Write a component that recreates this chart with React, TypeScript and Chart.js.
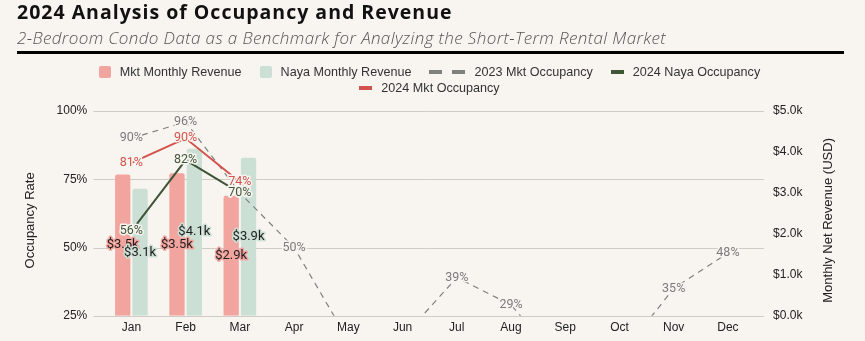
import React, { useEffect, useRef } from "react";
import { Chart, registerables } from "chart.js";

Chart.register(...registerables);

const months = ["Jan", "Feb", "Mar", "Apr", "May", "Jun", "Jul", "Aug", "Sep", "Oct", "Nov", "Dec"];
// revenue in thousands USD
const mktRevenue = [3.45, 3.48, 2.93, null, null, null, null, null, null, null, null, null];
const nayaRevenue = [3.1, 4.08, 3.86, null, null, null, null, null, null, null, null, null];
// occupancy in %
const mkt2023Occ = [90, 96, 70, 50, 16, 17, 39, 29, 6, 10, 35, 48];
const naya2024Occ = [56, 82, 70, null, null, null, null, null, null, null, null, null];
const mkt2024Occ = [81, 90, 74, null, null, null, null, null, null, null, null, null];

const occMin = 25;
const occMax = 100;
const occStep = 25;
const revMin = 0;
const revMax = 5;
const revStep = 1;

const leftTitle = "Occupancy Rate";
const rightTitle = "Monthly Net Revenue (USD)";

const BG = "#f8f5f1";
const PINK = "#f2a49e";
const MINT = "#cbdfd4";
const RED = "#d3524a";
const DKGREEN = "#3f5537";
const GREY = "#808080";

const gridPlugin = {
  id: "customGrid",
  beforeDatasetsDraw(chart: any) {
    const { ctx, chartArea, scales } = chart;
    const y = scales.y;
    ctx.save();
    ctx.strokeStyle = "#cfcbc5";
    ctx.lineWidth = 1;
    y.ticks.forEach((t: any) => {
      const py = Math.round(y.getPixelForValue(t.value)) + 0.5;
      ctx.beginPath();
      ctx.moveTo(chartArea.left - 11, py);
      ctx.lineTo(chartArea.right + 9, py);
      ctx.stroke();
    });
    ctx.restore();
  },
};

// axis titles, drawn slightly below the chart-area centre like the reference
const axisTitlePlugin = {
  id: "axisTitles",
  afterDraw(chart: any) {
    const { ctx, chartArea, scales } = chart;
    const cy = (chartArea.top + chartArea.bottom) / 2 + 7;
    ctx.save();
    ctx.font = "13px 'Liberation Sans', Arial, sans-serif";
    ctx.fillStyle = "#222";
    ctx.textAlign = "center";
    ctx.textBaseline = "middle";
    const lx = scales.y.left + 4 + 7.8;
    ctx.save();
    ctx.translate(lx, cy);
    ctx.rotate(-Math.PI / 2);
    ctx.fillText(leftTitle, 0, 0);
    ctx.restore();
    const rx = scales.y1.right - 4 - 7.8;
    ctx.save();
    ctx.translate(rx, cy);
    ctx.rotate(-Math.PI / 2);
    ctx.fillText(rightTitle, 0, 0);
    ctx.restore();
    ctx.restore();
  },
};

const labelPlugin = {
  id: "valueLabels",
  afterDatasetsDraw(chart: any) {
    const { ctx, chartArea } = chart;
    ctx.save();
    ctx.textAlign = "center";
    ctx.textBaseline = "middle";
    ctx.lineJoin = "round";
    chart.data.datasets.forEach((ds: any, di: number) => {
      const meta = chart.getDatasetMeta(di);
      meta.data.forEach((el: any, j: number) => {
        const v = ds.data[j];
        if (v === null || v === undefined) return;
        let x = el.x;
        let yy = el.y;
        let text = "";
        if (ds.type === "bar") {
          yy = (el.y + el.base) / 2;
          text = "$" + v.toFixed(1) + "k";
          ctx.font = "13px Roboto, 'Liberation Sans', sans-serif";
          ctx.strokeStyle = ds.backgroundColor;
          ctx.fillStyle = "#1e1e1e";
        } else {
          if (v < occMin || v > occMax) return;
          text = Math.round(v) + "%";
          ctx.font = "12.5px Roboto, 'Liberation Sans', sans-serif";
          ctx.strokeStyle = BG;
          ctx.fillStyle = ds.labelColor;
        }
        if (yy < chartArea.top - 5 || yy > chartArea.bottom + 5) return;
        ctx.lineWidth = 3;
        ctx.strokeText(text, x, yy);
        ctx.fillText(text, x, yy);
      });
    });
    ctx.restore();
  },
};

function LegendBox({ color }: { color: string }) {
  return (
    <span
      style={{
        display: "inline-block",
        width: 12,
        height: 12,
        borderRadius: 2,
        background: color,
        marginRight: 9,
      }}
    />
  );
}

function LegendLine({ color, dashed }: { color: string; dashed?: boolean }) {
  const dash = (ml: number) => (
    <span
      style={{
        display: "inline-block",
        width: 13,
        height: 4,
        background: color,
        marginLeft: ml,
      }}
    />
  );
  return (
    <span style={{ display: "inline-flex", alignItems: "center", marginRight: 9 }}>
      {dash(0)}
      {dashed ? dash(10) : null}
    </span>
  );
}

export default function App() {
  const canvasRef = useRef<HTMLCanvasElement | null>(null);

  useEffect(() => {
    if (!canvasRef.current) return;
    Chart.defaults.font.family = "'Liberation Sans', Arial, sans-serif";
    const chart = new Chart(canvasRef.current, {
      data: {
        labels: months,
        datasets: [
          {
            type: "bar",
            label: "Mkt Monthly Revenue",
            data: mktRevenue,
            backgroundColor: PINK,
            yAxisID: "y1",
            borderRadius: 2,
            barPercentage: 0.88,
            categoryPercentage: 0.64,
            order: 10,
          },
          {
            type: "bar",
            label: "Naya Monthly Revenue",
            data: nayaRevenue,
            backgroundColor: MINT,
            yAxisID: "y1",
            borderRadius: 2,
            barPercentage: 0.88,
            categoryPercentage: 0.64,
            order: 10,
          },
          {
            type: "line",
            label: "2023 Mkt Occupancy",
            data: mkt2023Occ,
            borderColor: GREY,
            borderWidth: 1.2,
            borderDash: [6, 5],
            pointRadius: 0,
            yAxisID: "y",
            labelColor: "#7b7b7b",
            order: 3,
          } as any,
          {
            type: "line",
            label: "2024 Naya Occupancy",
            data: naya2024Occ,
            borderColor: DKGREEN,
            borderWidth: 2,
            pointRadius: 0,
            yAxisID: "y",
            labelColor: DKGREEN,
            order: 2,
          } as any,
          {
            type: "line",
            label: "2024 Mkt Occupancy",
            data: mkt2024Occ,
            borderColor: RED,
            borderWidth: 2,
            pointRadius: 0,
            yAxisID: "y",
            labelColor: RED,
            order: 1,
          } as any,
        ],
      },
      options: {
        animation: false,
        responsive: false,
        maintainAspectRatio: false,
        layout: { padding: { top: 111, left: 19, right: 25, bottom: 0 } },
        plugins: {
          legend: { display: false },
          tooltip: { enabled: false },
        },
        scales: {
          x: {
            grid: { display: false, drawTicks: false },
            border: { display: false },
            ticks: { color: "#222", font: { size: 12 }, padding: 5 },
          },
          y: {
            position: "left",
            min: occMin,
            max: occMax,
            grid: { display: false, drawTicks: false },
            border: { display: false },
            ticks: {
              stepSize: occStep,
              color: "#222",
              font: { size: 12 },
              padding: 17,
              callback: (v: any) => v + "%",
            },
            title: {
              display: true,
              text: leftTitle,
              color: "rgba(0,0,0,0)",
              font: { size: 13 },
              padding: { top: 4, bottom: 1 },
            },
          },
          y1: {
            position: "right",
            min: revMin,
            max: revMax,
            grid: { display: false, drawTicks: false },
            border: { display: false },
            ticks: {
              stepSize: revStep,
              color: "#222",
              font: { size: 12 },
              padding: 18,
              callback: (v: any) => "$" + Number(v).toFixed(1) + "k",
            },
            title: {
              display: true,
              text: rightTitle,
              color: "rgba(0,0,0,0)",
              font: { size: 13 },
              padding: { top: 4, bottom: 0 },
            },
          },
        },
      } as any,
      plugins: [gridPlugin, labelPlugin, axisTitlePlugin],
    });
    return () => chart.destroy();
  }, []);

  const legendItem: React.CSSProperties = {
    display: "inline-flex",
    alignItems: "center",
    height: 16,
  };

  return (
    <div
      style={{
        position: "fixed",
        top: 0,
        left: 0,
        width: 865,
        height: 341,
        background: BG,
        overflow: "hidden",
      }}
    >
      <canvas
        ref={canvasRef}
        width={865}
        height={341}
        style={{ position: "absolute", top: 0, left: 0, width: 865, height: 341 }}
      />
      <div
        style={{
          position: "absolute",
          left: 17,
          top: -2,
          fontFamily: "'Open Sans', sans-serif",
          fontWeight: 700,
          fontSize: 19.5,
          letterSpacing: 1.0,
          color: "#111",
          whiteSpace: "nowrap",
        }}
      >
        2024 Analysis of Occupancy and Revenue
      </div>
      <div
        style={{
          position: "absolute",
          left: 17,
          top: 26,
          fontFamily: "'Open Sans', sans-serif",
          fontStyle: "italic",
          fontWeight: 300,
          fontSize: 17,
          letterSpacing: 0.38,
          color: "#555",
          whiteSpace: "nowrap",
        }}
      >
        2-Bedroom Condo Data as a Benchmark for Analyzing the Short-Term Rental Market
      </div>
      <div
        style={{
          position: "absolute",
          left: 17,
          top: 51,
          width: 827,
          height: 3,
          background: "#000",
        }}
      />
      <div
        style={{
          position: "absolute",
          left: 79.5,
          top: 64,
          width: 700,
          display: "flex",
          flexWrap: "wrap",
          justifyContent: "center",
          columnGap: 18,
          rowGap: 0,
          fontFamily: "'Liberation Sans', Arial, sans-serif",
          fontSize: 12.6,
          color: "#333",
          lineHeight: "16px",
        }}
      >
        <span style={legendItem}>
          <LegendBox color={PINK} />
          Mkt Monthly Revenue
        </span>
        <span style={legendItem}>
          <LegendBox color={MINT} />
          Naya Monthly Revenue
        </span>
        <span style={legendItem}>
          <LegendLine color={GREY} dashed />
          2023 Mkt Occupancy
        </span>
        <span style={legendItem}>
          <LegendLine color={DKGREEN} />
          2024 Naya Occupancy
        </span>
        <span style={legendItem}>
          <LegendLine color={RED} />
          2024 Mkt Occupancy
        </span>
      </div>
    </div>
  );
}
